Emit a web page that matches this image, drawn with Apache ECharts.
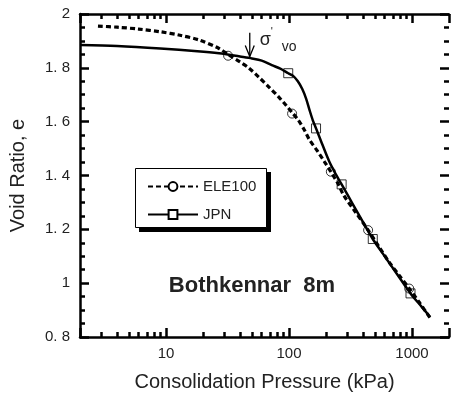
<!DOCTYPE html>
<html><head><meta charset="utf-8">
<script src="https://cdn.jsdelivr.net/npm/echarts@6/dist/echarts.min.js"></script>
<style>html,body{margin:0;padding:0;background:#fff}#c{width:452px;height:400px}</style>
</head><body><div id="c"></div>
<script>
// ---- data ----
const eleX = [2.8, 4, 6, 9, 13, 18.7, 27, 32.6, 40, 47, 57, 70, 82, 95, 106, 119, 133, 147, 171, 195, 219, 250, 280, 340, 440, 540, 664, 800, 950, 1150, 1400];
const eleY = [1.955, 1.951, 1.944, 1.934, 1.921, 1.903, 1.872, 1.847, 1.822, 1.800, 1.765, 1.725, 1.693, 1.660, 1.634, 1.606, 1.570, 1.532, 1.490, 1.450, 1.414, 1.370, 1.325, 1.270, 1.197, 1.135, 1.073, 1.025, 0.980, 0.928, 0.872];
const jpnX = [2, 4, 9, 18, 27, 40, 50, 60, 72.5, 85, 98.6, 108, 118, 128, 138, 147, 156, 166, 185, 213, 240, 268, 330, 400, 480, 600, 750, 973, 1200, 1400];
const jpnY = [1.885, 1.881, 1.872, 1.862, 1.854, 1.842, 1.835, 1.827, 1.810, 1.797, 1.780, 1.770, 1.750, 1.722, 1.685, 1.643, 1.606, 1.575, 1.520, 1.451, 1.405, 1.367, 1.294, 1.227, 1.164, 1.100, 1.036, 0.962, 0.912, 0.875];
const eleMarkX = [32, 106, 219, 440, 950];
const eleMarkY = [1.845, 1.630, 1.414, 1.197, 0.980];
const jpnMarkX = [98.6, 166, 268, 480, 973];
const jpnMarkY = [1.780, 1.575, 1.367, 1.164, 0.962];
const xTickLabels = [10, 100, 1000];
const yTickValues = [0.8, 1, 1.2, 1.4, 1.6, 1.8, 2];
const yTickLabels = ['0. 8', '1', '1. 2', '1. 4', '1. 6', '1. 8', '2'];
const seriesNames = ['ELE100', 'JPN'];
const annotationText = 'Bothkennar  8m';
const arrowX = 48, arrowTopY = 1.93, arrowTipY = 1.842;
const titleX = 50, titleY = 0.99;

const FONT = "'Liberation Sans', Arial, sans-serif";
const TXT = '#222';
const chart = echarts.init(document.getElementById('c'), null, {renderer: 'canvas'});
const pair = (xs, ys) => xs.map((x, i) => [x, ys[i]]);
const tickCommon = (show) => ({
  axisLine: {show: show, onZero: false, lineStyle: {color: '#000', width: 2.5}},
  axisTick: {show: true, inside: true, length: 9, lineStyle: {color: '#000', width: 2.5}},
  splitLine: {show: false}
});
const xBase = {type: 'log', logBase: 10, min: 2, max: 2000, minorTick: {show: true, splitNumber: 9, length: 5, lineStyle: {color: '#000', width: 2.5}}};
const yBase = {type: 'value', min: 0.8, max: 2, interval: 0.2, minorTick: {show: true, splitNumber: 4, length: 5, lineStyle: {color: '#000', width: 2.5}}};

chart.setOption({
  animation: false,
  backgroundColor: '#fff',
  grid: {left: 78.5, top: 14, width: 375, height: 323},
  xAxis: [
    Object.assign({}, xBase, tickCommon(true), {
      position: 'bottom',
      name: 'Consolidation Pressure (kPa)', nameLocation: 'middle', nameGap: 35,
      nameTextStyle: {fontSize: 20, color: TXT, fontFamily: FONT},
      axisLabel: {margin: 9, fontSize: 15, color: TXT, fontFamily: FONT,
        formatter: v => { const r = Math.round(v); return xTickLabels.includes(r) && Math.abs(r - v) < 1e-6 * r ? String(r) : ''; }}
    }),
    Object.assign({}, xBase, tickCommon(true), {position: 'top', axisLabel: {show: false}})
  ],
  yAxis: [
    Object.assign({}, yBase, tickCommon(true), {
      position: 'left',
      name: 'Void Ratio, e', nameLocation: 'middle', nameGap: 52,
      nameTextStyle: {fontSize: 20, color: TXT, fontFamily: FONT},
      axisLabel: {margin: 10, fontSize: 15, color: TXT, fontFamily: FONT,
        formatter: v => { const i = yTickValues.findIndex(t => Math.abs(t - v) < 1e-6); return i >= 0 ? yTickLabels[i] : ''; }}
    }),
    Object.assign({}, yBase, tickCommon(false), {position: 'right', axisLabel: {show: false}})
  ],
  legend: {
    data: seriesNames, orient: 'vertical', left: 135, top: 169, z: 20,
    padding: [10, 10, 8, 12], itemGap: 13, itemWidth: 50, itemHeight: 11,
    textStyle: {fontSize: 15, color: TXT, fontFamily: FONT}
  },
  series: [
    {name: seriesNames[0], type: 'line', data: pair(eleX, eleY), smooth: 0.3,
      symbol: 'circle', symbolSize: 8, showSymbol: false,
      lineStyle: {color: '#000', width: 3.2, type: [5, 3]},
      itemStyle: {color: '#fff', borderColor: '#000', borderWidth: 1}},
    {name: seriesNames[1], type: 'line', data: pair(jpnX, jpnY), smooth: 0.3,
      symbol: 'rect', symbolSize: 8, showSymbol: false,
      lineStyle: {color: '#000', width: 2.5},
      itemStyle: {color: '#fff', borderColor: '#000', borderWidth: 1}},
    {name: seriesNames[0] + ' pts', type: 'scatter', data: pair(eleMarkX, eleMarkY),
      symbol: 'circle', symbolSize: 9, z: 3,
      itemStyle: {color: 'rgba(0,0,0,0)', borderColor: '#000', borderWidth: 1}},
    {name: seriesNames[1] + ' pts', type: 'scatter', data: pair(jpnMarkX, jpnMarkY),
      symbol: 'rect', symbolSize: 9, z: 3,
      itemStyle: {color: 'rgba(0,0,0,0)', borderColor: '#000', borderWidth: 1}}
  ]
});

const tipPx = chart.convertToPixel({seriesIndex: 0}, [arrowX, arrowTipY]);
const basePx = chart.convertToPixel({seriesIndex: 0}, [arrowX, arrowTopY]);
const titlePx = chart.convertToPixel({seriesIndex: 0}, [titleX, titleY]);
chart.setOption({
  graphic: [
    {type: 'rect', shape: {x: 139, y: 172, width: 132, height: 60}, style: {fill: '#000'}, z: 10},
    {type: 'rect', shape: {x: 135.5, y: 168.5, width: 131, height: 59}, style: {fill: '#fff', stroke: '#000', lineWidth: 1}, z: 11},
    {type: 'line', shape: {x1: basePx[0], y1: basePx[1], x2: tipPx[0], y2: tipPx[1]}, style: {stroke: '#000', lineWidth: 1.3}, z: 10},
    {type: 'polyline', shape: {points: [[tipPx[0] - 4.5, tipPx[1] - 11], [tipPx[0], tipPx[1]], [tipPx[0] + 4.5, tipPx[1] - 11]]}, style: {stroke: '#000', lineWidth: 1.3, fill: null}, z: 10},
    {type: 'text', x: basePx[0] + 10, y: basePx[1] + 7, style: {text: 'σ', font: '18px ' + FONT, fill: TXT, verticalAlign: 'middle', align: 'left'}, z: 10},
    {type: 'text', x: basePx[0] + 21, y: basePx[1] - 1, style: {text: "'", font: '11px ' + FONT, fill: TXT, verticalAlign: 'middle', align: 'left'}, z: 10},
    {type: 'text', x: basePx[0] + 32, y: basePx[1] + 14, style: {text: 'vo', font: '14px ' + FONT, fill: TXT, verticalAlign: 'middle', align: 'left'}, z: 10},
    {type: 'text', x: titlePx[0], y: titlePx[1], style: {text: annotationText, font: 'bold 22px ' + FONT, fill: TXT, verticalAlign: 'middle', align: 'center'}, z: 10}
  ]
});
</script>
</body></html>
